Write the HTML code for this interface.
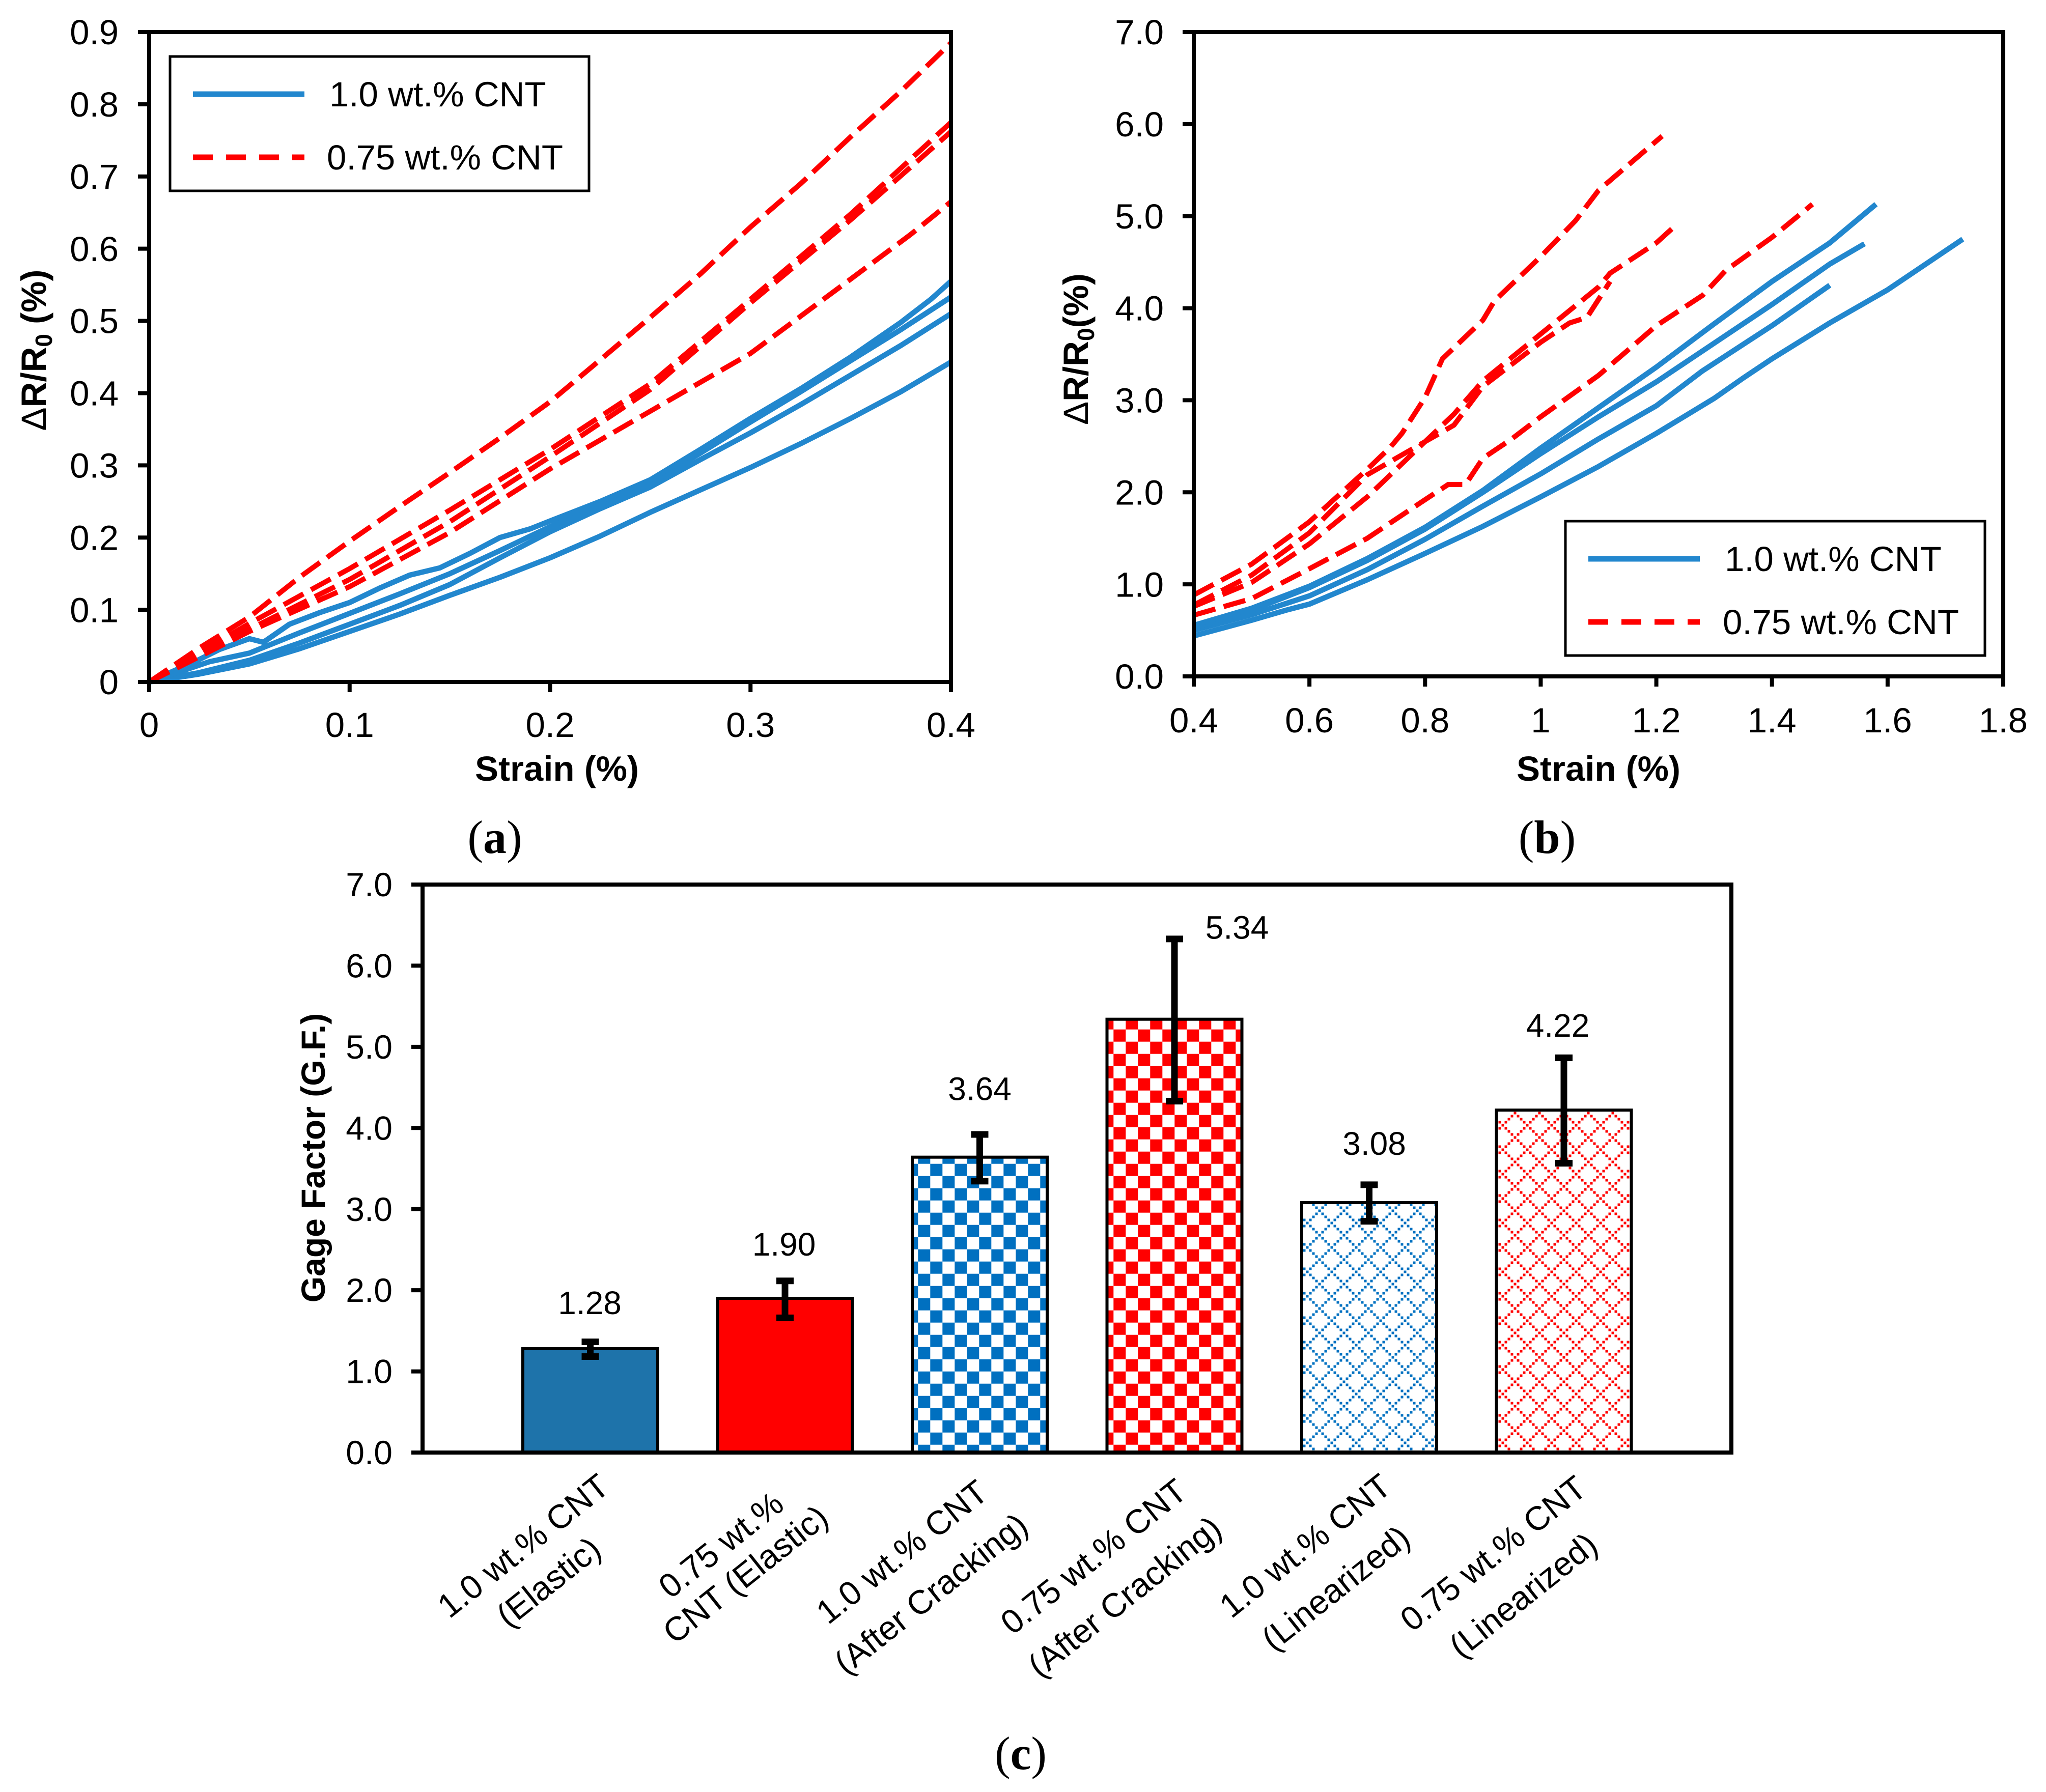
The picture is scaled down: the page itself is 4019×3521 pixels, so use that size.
<!DOCTYPE html>
<html lang="en">
<head>
<meta charset="utf-8">
<title>Gage factor charts</title>
<style>
html,body{margin:0;padding:0;background:#fff;}
svg{display:block;}
text{font-family:"Liberation Sans",Arial,sans-serif;fill:#000;}
.panel{font-family:"Liberation Serif","Times New Roman",serif;font-weight:bold;font-size:92px;}
.panel tspan.paren{font-weight:normal;}
.title{font-weight:bold;font-size:69px;}
.legend{font-size:69px;}
</style>
</head>
<body>
<svg id="figure" xmlns="http://www.w3.org/2000/svg" width="4019" height="3521" viewBox="0 0 4019 3521">
<defs>
<pattern id="checkBlue" patternUnits="userSpaceOnUse" x="27.3" y="6.7" width="48" height="48"><rect width="48" height="48" fill="#fff"/><rect width="24" height="24" fill="#0070C0"/><rect x="24" y="24" width="24" height="24" fill="#0070C0"/></pattern>
<pattern id="checkRed" patternUnits="userSpaceOnUse" x="27.3" y="6.7" width="48" height="48"><rect width="48" height="48" fill="#fff"/><rect width="24" height="24" fill="#FF0000"/><rect x="24" y="24" width="24" height="24" fill="#FF0000"/></pattern>
<pattern id="trellisBlue" patternUnits="userSpaceOnUse" x="0" y="27" width="48" height="48"></pattern>
<pattern id="trellisRed" patternUnits="userSpaceOnUse" x="0" y="27" width="48" height="48"></pattern>
</defs>
<rect width="4019" height="3521" fill="#fff"/>
<g id="chartA"></g>
<g id="chartB"></g>
<g id="chartC"></g>

<text class="title" x="1094" y="1534" text-anchor="middle">Strain (%)</text>
<text class="title" transform="translate(90,688) rotate(-90)" text-anchor="middle"><tspan font-weight="normal">Δ</tspan>R/R<tspan font-size="46" dy="12">0</tspan><tspan dy="-12"> (%)</tspan></text>
<text class="title" x="3140" y="1534" text-anchor="middle">Strain (%)</text>
<text class="title" transform="translate(2137,686) rotate(-90)" text-anchor="middle"><tspan font-weight="normal">Δ</tspan>R/R<tspan font-size="46" dy="12">0</tspan><tspan dy="-12">(%)</tspan></text>
<text font-weight="bold" font-size="66" transform="translate(638,2275) rotate(-90)" text-anchor="middle">Gage Factor (G.F.)</text>

<g>
<rect x="334" y="111" width="823" height="264" fill="#fff" stroke="#000" stroke-width="5"/>
<line x1="379" x2="598" y1="185" y2="185" stroke="#2287CE" stroke-width="11"/>
<text class="legend" x="647" y="209">1.0 wt.% CNT</text>
<line x1="379" x2="598" y1="309" y2="309" stroke="#FF0000" stroke-width="11" stroke-dasharray="39 26"/>
<text class="legend" x="642" y="333">0.75 wt.% CNT</text>
</g>
<g>
<rect x="3075" y="1024" width="824" height="264" fill="#fff" stroke="#000" stroke-width="5"/>
<line x1="3120" x2="3339" y1="1098" y2="1098" stroke="#2287CE" stroke-width="11"/>
<text class="legend" x="3388" y="1122">1.0 wt.% CNT</text>
<line x1="3120" x2="3339" y1="1222" y2="1222" stroke="#FF0000" stroke-width="11" stroke-dasharray="39 26"/>
<text class="legend" x="3384" y="1246">0.75 wt.% CNT</text>
</g>

<text class="panel" x="972" y="1676" text-anchor="middle"><tspan class="paren">(</tspan>a<tspan class="paren">)</tspan></text>
<text class="panel" x="3039" y="1676" text-anchor="middle"><tspan class="paren">(</tspan>b<tspan class="paren">)</tspan></text>
<text class="panel" x="2005" y="3476" text-anchor="middle"><tspan class="paren">(</tspan>c<tspan class="paren">)</tspan></text>
</svg>

<script>
// ---------- Chart A data (strain %, dR/R0 %) ----------
const aBlue1Strain = [0, 0.025, 0.05, 0.075, 0.1, 0.125, 0.15, 0.175, 0.2, 0.225, 0.25, 0.275, 0.3, 0.325, 0.35, 0.375, 0.4];
const aBlue1Value = [0, 0.011, 0.025, 0.046, 0.07, 0.094, 0.12, 0.145, 0.172, 0.202, 0.235, 0.266, 0.297, 0.33, 0.365, 0.402, 0.443];
const aBlue2Strain = [0, 0.025, 0.05, 0.075, 0.1, 0.125, 0.15, 0.175, 0.2, 0.225, 0.25, 0.275, 0.3, 0.325, 0.35, 0.375, 0.4];
const aBlue2Value = [0, 0.013, 0.03, 0.054, 0.08, 0.106, 0.135, 0.172, 0.208, 0.24, 0.27, 0.308, 0.345, 0.384, 0.425, 0.466, 0.51];
const aBlue3Strain = [0, 0.015, 0.03, 0.05, 0.075, 0.1, 0.125, 0.15, 0.175, 0.2, 0.225, 0.25, 0.275, 0.3, 0.325, 0.35, 0.375, 0.4];
const aBlue3Value = [0, 0.014, 0.028, 0.04, 0.068, 0.095, 0.122, 0.15, 0.182, 0.215, 0.245, 0.275, 0.317, 0.36, 0.402, 0.445, 0.488, 0.533];
const aBlue4Strain = [0, 0.012, 0.022, 0.035, 0.05, 0.057, 0.07, 0.085, 0.1, 0.115, 0.13, 0.145, 0.16, 0.175, 0.19, 0.2, 0.225, 0.25, 0.275, 0.3, 0.325, 0.35, 0.375, 0.39, 0.4];
const aBlue4Value = [0, 0.015, 0.027, 0.045, 0.06, 0.055, 0.08, 0.096, 0.11, 0.13, 0.148, 0.158, 0.178, 0.2, 0.212, 0.223, 0.25, 0.28, 0.322, 0.365, 0.406, 0.45, 0.498, 0.53, 0.555];
const aRed1Strain = [0, 0.025, 0.05, 0.075, 0.1, 0.125, 0.15, 0.175, 0.2, 0.225, 0.25, 0.275, 0.3, 0.325, 0.35, 0.375, 0.4];
const aRed1Value = [0, 0.047, 0.09, 0.145, 0.195, 0.243, 0.29, 0.338, 0.388, 0.446, 0.505, 0.565, 0.63, 0.69, 0.755, 0.818, 0.885];
const aRed2Strain = [0, 0.05, 0.1, 0.15, 0.2, 0.25, 0.3, 0.35, 0.4];
const aRed2Value = [0, 0.081, 0.157, 0.238, 0.322, 0.413, 0.53, 0.648, 0.775];
const aRed3Strain = [0, 0.05, 0.1, 0.15, 0.2, 0.25, 0.3, 0.35, 0.4];
const aRed3Value = [0, 0.073, 0.142, 0.222, 0.312, 0.405, 0.525, 0.64, 0.762];
const aRed4Strain = [0, 0.05, 0.1, 0.15, 0.2, 0.25, 0.3, 0.35, 0.38, 0.4];
const aRed4Value = [0, 0.07, 0.132, 0.207, 0.295, 0.375, 0.455, 0.558, 0.62, 0.665];
const aXTickLabels = ["0", "0.1", "0.2", "0.3", "0.4"];
const aYTickLabels = ["0", "0.1", "0.2", "0.3", "0.4", "0.5", "0.6", "0.7", "0.8", "0.9"];

// ---------- Chart B data (strain %, dR/R0 %) ----------
const bBlue1Strain = [0.4, 0.5, 0.56, 0.6, 0.7, 0.8, 0.9, 1, 1.1, 1.2, 1.3, 1.35, 1.4, 1.5, 1.6, 1.73];
const bBlue1Value = [0.44, 0.61, 0.72, 0.785, 1.05, 1.336, 1.63, 1.95, 2.28, 2.64, 3.02, 3.24, 3.45, 3.84, 4.2, 4.75];
const bBlue2Strain = [0.4, 0.5, 0.6, 0.7, 0.8, 0.9, 1, 1.1, 1.2, 1.28, 1.4, 1.5];
const bBlue2Value = [0.5, 0.67, 0.875, 1.16, 1.49, 1.85, 2.2, 2.58, 2.94, 3.32, 3.81, 4.25];
const bBlue3Strain = [0.4, 0.5, 0.6, 0.7, 0.8, 0.9, 1, 1.1, 1.2, 1.3, 1.4, 1.5, 1.56];
const bBlue3Value = [0.53, 0.72, 0.965, 1.26, 1.6, 2, 2.42, 2.82, 3.2, 3.62, 4.04, 4.48, 4.7];
const bBlue4Strain = [0.4, 0.5, 0.6, 0.7, 0.8, 0.9, 1, 1.1, 1.2, 1.3, 1.4, 1.5, 1.58];
const bBlue4Value = [0.555, 0.74, 0.98, 1.28, 1.62, 2.02, 2.48, 2.92, 3.36, 3.83, 4.29, 4.71, 5.13];
const bRed1Strain = [0.4, 0.5, 0.6, 0.7, 0.74, 0.76, 0.8, 0.83, 0.86, 0.9, 0.92, 1, 1.06, 1.1, 1.21];
const bRed1Value = [0.885, 1.22, 1.68, 2.25, 2.49, 2.64, 3.03, 3.45, 3.63, 3.87, 4.08, 4.56, 4.95, 5.28, 5.87];
const bRed2Strain = [0.4, 0.5, 0.6, 0.7, 0.8, 0.85, 0.9, 1, 1.1, 1.12, 1.2, 1.23];
const bRed2Value = [0.775, 1.1, 1.56, 2.19, 2.55, 2.85, 3.21, 3.72, 4.23, 4.38, 4.71, 4.88];
const bRed3Strain = [0.4, 0.5, 0.6, 0.7, 0.75, 0.8, 0.85, 0.9, 1, 1.05, 1.08, 1.12];
const bRed3Value = [0.76, 1.02, 1.44, 1.95, 2.25, 2.55, 2.73, 3.15, 3.63, 3.84, 3.9, 4.29];
const bRed4Strain = [0.4, 0.5, 0.6, 0.7, 0.8, 0.84, 0.87, 0.9, 0.95, 1, 1.1, 1.2, 1.28, 1.32, 1.4, 1.47];
const bRed4Value = [0.665, 0.845, 1.17, 1.5, 1.92, 2.085, 2.085, 2.37, 2.58, 2.82, 3.27, 3.81, 4.14, 4.41, 4.77, 5.13];
const bXTickLabels = ["0.4", "0.6", "0.8", "1", "1.2", "1.4", "1.6", "1.8"];
const bYTickLabels = ["0.0", "1.0", "2.0", "3.0", "4.0", "5.0", "6.0", "7.0"];

// ---------- Chart C data ----------
const cCategoryLine1 = ["1.0 wt.% CNT", "0.75 wt.%", "1.0 wt.% CNT", "0.75 wt.% CNT", "1.0 wt.% CNT", "0.75 wt.% CNT"];
const cCategoryLine2 = ["(Elastic)", "CNT (Elastic)", "(After Cracking)", "(After Cracking)", "(Linearized)", "(Linearized)"];
const cGageFactor = [1.28, 1.90, 3.64, 5.34, 3.08, 4.22];
const cValueLabels = ["1.28", "1.90", "3.64", "5.34", "3.08", "4.22"];
const cErrorHigh = [1.364, 2.115, 3.92, 6.33, 3.30, 4.865];
const cErrorLow = [1.182, 1.66, 3.345, 4.33, 2.85, 3.565];
const cYTickLabels = ["0.0", "1.0", "2.0", "3.0", "4.0", "5.0", "6.0", "7.0"];

const NS = "http://www.w3.org/2000/svg";
function make(tag, attrs, parent) {
  const node = document.createElementNS(NS, tag);
  for (const key in attrs) node.setAttribute(key, attrs[key]);
  parent.appendChild(node);
  return node;
}
function linear(d0, d1, r0, r1) {
  return function (v) { return r0 + (v - d0) / (d1 - d0) * (r1 - r0); };
}
function drawCurve(parent, xs, ys, sx, sy, color, dash, name) {
  const pts = xs.map(function (x, i) { return sx(x).toFixed(1) + "," + sy(ys[i]).toFixed(1); }).join(" ");
  const attrs = { points: pts, fill: "none", stroke: color, "stroke-width": dash ? 10 : 10.5, "stroke-linejoin": "round" };
  if (dash) attrs["stroke-dasharray"] = dash;
  const curve = make("polyline", attrs, parent);
  
  
}
function drawFrame(parent, left, right, top, bottom, width) {
  const frame = make("rect", { x: left, y: top, width: right - left, height: bottom - top, fill: "none", stroke: "#000", "stroke-width": width }, parent);
  
  
}
function drawYAxis(parent, labels, axisMin, axisMax, sy, left, labelRight, fontSize) {
  labels.forEach(function (label, i) {
    const value = axisMin + (axisMax - axisMin) * i / (labels.length - 1);
    const y = sy(value);
    const tick = make("line", { x1: left - 22, x2: left, y1: y, y2: y, stroke: "#000", "stroke-width": 8 }, parent);
    
    
    const text = make("text", { x: labelRight, y: y + fontSize * 0.35, "text-anchor": "end", "font-size": fontSize }, parent);
    text.textContent = label;
    
    
  });
}
function drawXAxis(parent, labels, axisMin, axisMax, sx, bottom, labelCenterY, fontSize) {
  labels.forEach(function (label, i) {
    const value = axisMin + (axisMax - axisMin) * i / (labels.length - 1);
    const x = sx(value);
    const tick = make("line", { x1: x, x2: x, y1: bottom, y2: bottom + 20, stroke: "#000", "stroke-width": 8 }, parent);
    
    
    const text = make("text", { x: x, y: labelCenterY + fontSize * 0.35, "text-anchor": "middle", "font-size": fontSize }, parent);
    text.textContent = label;
    
    
  });
}

// Chart A
(function () {
  const g = document.getElementById("chartA");
  const sx = linear(0, 0.4, 293, 1868);
  const sy = linear(0, 0.9, 1340, 63);
  const dash = "44 17";
  drawCurve(g, aBlue1Strain, aBlue1Value, sx, sy, "#2287CE", null, "blue-curve-1");
  drawCurve(g, aBlue2Strain, aBlue2Value, sx, sy, "#2287CE", null, "blue-curve-2");
  drawCurve(g, aBlue3Strain, aBlue3Value, sx, sy, "#2287CE", null, "blue-curve-3");
  drawCurve(g, aBlue4Strain, aBlue4Value, sx, sy, "#2287CE", null, "blue-curve-4");
  drawCurve(g, aRed1Strain, aRed1Value, sx, sy, "#FF0000", dash, "red-curve-1");
  drawCurve(g, aRed2Strain, aRed2Value, sx, sy, "#FF0000", dash, "red-curve-2");
  drawCurve(g, aRed3Strain, aRed3Value, sx, sy, "#FF0000", dash, "red-curve-3");
  drawCurve(g, aRed4Strain, aRed4Value, sx, sy, "#FF0000", dash, "red-curve-4");
  drawFrame(g, 293, 1868, 63, 1340, 8);
  drawYAxis(g, aYTickLabels, 0, 0.9, sy, 293, 233, 69);
  drawXAxis(g, aXTickLabels, 0, 0.4, sx, 1340, 1424, 69);
})();

// Chart B
(function () {
  const g = document.getElementById("chartB");
  const sx = linear(0.4, 1.8, 2345, 3935);
  const sy = linear(0, 7, 1329, 63);
  const dash = "44 17";
  drawCurve(g, bBlue1Strain, bBlue1Value, sx, sy, "#2287CE", null, "blue-curve-1");
  drawCurve(g, bBlue2Strain, bBlue2Value, sx, sy, "#2287CE", null, "blue-curve-2");
  drawCurve(g, bBlue3Strain, bBlue3Value, sx, sy, "#2287CE", null, "blue-curve-3");
  drawCurve(g, bBlue4Strain, bBlue4Value, sx, sy, "#2287CE", null, "blue-curve-4");
  drawCurve(g, bRed1Strain, bRed1Value, sx, sy, "#FF0000", dash, "red-curve-1");
  drawCurve(g, bRed2Strain, bRed2Value, sx, sy, "#FF0000", dash, "red-curve-2");
  drawCurve(g, bRed3Strain, bRed3Value, sx, sy, "#FF0000", dash, "red-curve-3");
  drawCurve(g, bRed4Strain, bRed4Value, sx, sy, "#FF0000", dash, "red-curve-4");
  drawFrame(g, 2345, 3935, 63, 1329, 8);
  drawYAxis(g, bYTickLabels, 0, 7, sy, 2345, 2286, 69);
  drawXAxis(g, bXTickLabels, 0.4, 1.8, sx, 1329, 1415, 69);
})();

// Trellis pattern tiles
[["trellisBlue", "#0070C0"], ["trellisRed", "#FF0000"]].forEach(function (spec) {
  const tile = document.getElementById(spec[0]);
  for (let k = 0; k <= 8; k++) {
    make("rect", { x: k * 6 - 2.5, y: k * 6 - 2.5, width: 5, height: 5, fill: spec[1] }, tile);
    make("rect", { x: 48 - k * 6 - 2.5, y: k * 6 - 2.5, width: 5, height: 5, fill: spec[1] }, tile);
  }
});

// Chart C
(function () {
  const g = document.getElementById("chartC");
  const sy = linear(0, 7, 2854, 1738);
  const barFills = ["#1E73AA", "#FF0000", "url(#checkBlue)", "url(#checkRed)", "url(#trellisBlue)", "url(#trellisRed)"];
  const barNames = ["bar-1-0-elastic", "bar-0-75-elastic", "bar-1-0-after-cracking", "bar-0-75-after-cracking", "bar-1-0-linearized", "bar-0-75-linearized"];
  const bandX = function (i) { return 1159.5 + i * 382.5; };
  const barWidth = 265;
  const labelDx = [-1, -2, 0, 123, 10, -12];
  const labelDy = [91, 107, 135, 181, 117, 167];
  const line1Pos = [[-132, 3037], [-126, 3035], [-153, 3049], [-159, 3058], [-126, 3037], [-139, 3052]];
  const line2Pos = [[-82, 3108], [-78, 3093], [-96, 3131], [-98, 3137], [-66, 3120], [-80, 3134]];

  const white = make("rect", { x: 830, y: 1738, width: 2571, height: 1116, fill: "#fff" }, g);
  
  

  cGageFactor.forEach(function (value, i) {
    const cx = bandX(i);
    const top = sy(value);
    const bar = make("rect", { x: cx - barWidth / 2, y: top, width: barWidth, height: sy(0) - top, fill: barFills[i], stroke: "#000", "stroke-width": 6 }, g);
    
    
  });
  drawFrame(g, 830, 3401, 1738, 2854, 8);
  drawYAxis(g, cYTickLabels, 0, 7, sy, 830, 771, 66);

  cGageFactor.forEach(function (value, i) {
    const cx = bandX(i);
    const hi = sy(cErrorHigh[i]);
    const lo = sy(cErrorLow[i]);
    const stem = make("line", { x1: cx, x2: cx, y1: hi, y2: lo, stroke: "#000", "stroke-width": 13 }, g);
    
    
    const capTop = make("line", { x1: cx - 17, x2: cx + 17, y1: hi, y2: hi, stroke: "#000", "stroke-width": 13 }, g);
    
    
    const capBottom = make("line", { x1: cx - 17, x2: cx + 17, y1: lo, y2: lo, stroke: "#000", "stroke-width": 13 }, g);
    
    

    const valueText = make("text", { x: cx + labelDx[i], y: sy(value) - labelDy[i] + 23, "text-anchor": "middle", "font-size": 64 }, g);
    valueText.textContent = cValueLabels[i];
    
    

    const lx1 = cx + line1Pos[i][0], ly1 = line1Pos[i][1];
    const first = make("text", { x: lx1, y: ly1, "text-anchor": "middle", "dominant-baseline": "central", "font-size": 66, transform: "rotate(-38.5 " + lx1 + " " + ly1 + ")" }, g);
    first.textContent = cCategoryLine1[i];
    
    

    const lx2 = cx + line2Pos[i][0], ly2 = line2Pos[i][1];
    const second = make("text", { x: lx2, y: ly2, "text-anchor": "middle", "dominant-baseline": "central", "font-size": 66, transform: "rotate(-38.5 " + lx2 + " " + ly2 + ")" }, g);
    second.textContent = cCategoryLine2[i];
    
    
  });
})();
</script>
</body>
</html>
